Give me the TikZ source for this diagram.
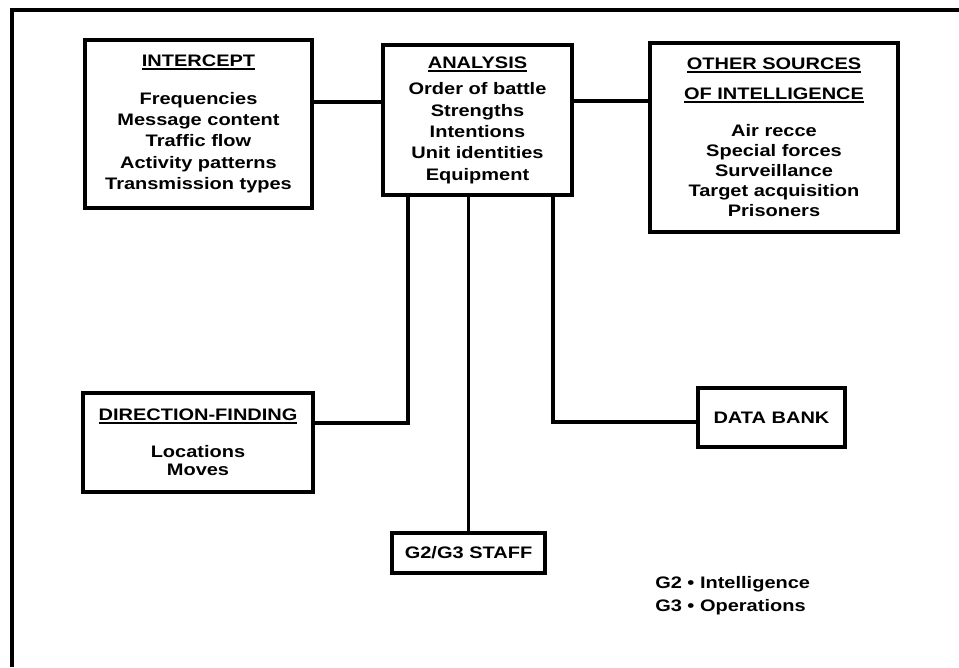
\documentclass[tikz,border=0pt]{standalone}
\usepackage{fontspec}
\setmainfont{Liberation Sans}[FakeStretch=1.2]
\usepackage{tikz}

\newcommand{\boxtitle}[1]{\setbox0\hbox{#1}\leavevmode\rlap{\rule[-2.6pt]{\wd0}{1.4pt}}\box0}

\tikzset{
    unitbox/.style={draw, line width=2.6pt, align=center, inner sep=0pt,
        font=\fontsize{12.5}{16}\selectfont\bfseries},
    link/.style={line width=2.6pt},
}

\begin{document}
\begin{tikzpicture}[x=0.75pt, y=-0.75pt]
    \useasboundingbox (0,0) rectangle (959,667);

    % frame, only top and left edge show
    \draw[line width=3.2pt] (959,10) -- (12,10) -- (12,667);

    \node[unitbox, minimum width=170.25pt, minimum height=126pt] (intercept) at (198.5,124)
        {\boxtitle{INTERCEPT}\\[12pt]
         Frequencies\\
         Message content\\
         Traffic flow\\
         Activity patterns\\
         Transmission types};
    \node[unitbox, minimum width=141.75pt, minimum height=112.5pt] (analysis) at (477.5,120)
        {\boxtitle{ANALYSIS}\\[4pt]
         Order of battle\\
         Strengths\\
         Intentions\\
         Unit identities\\
         Equipment};
    \node[unitbox, minimum width=186pt, minimum height=141.75pt] (other) at (774,137.5)
        {\boxtitle{OTHER SOURCES}\\[6.5pt]
         \boxtitle{OF INTELLIGENCE}\\[12pt]
         Air recce\\[-1pt]
         Special forces\\[-1pt]
         Surveillance\\[-1pt]
         Target acquisition\\[-1pt]
         Prisoners};
    \node[unitbox, minimum width=172.5pt, minimum height=74.25pt] (df) at (198,442.5)
        {\boxtitle{DIRECTION-FINDING}\\[12pt]
         Locations\\[-2.5pt]
         Moves};
    \node[unitbox, minimum width=114.75pt, minimum height=30pt] (staff) at (468.5,553)
        {G2/G3 STAFF};
    \node[unitbox, minimum width=110.25pt, minimum height=44.25pt] (bank) at (771.5,417.5)
        {DATA BANK};

    \node[anchor=north west, align=left, inner sep=0pt,
        font=\fontsize{12.5}{17.5}\selectfont\bfseries] (legend) at (655,576)
        {G2 \textbullet{} Intelligence\\
         G3 \textbullet{} Operations};

    % connectors
    \coordinate (westlink) at (340,102);
    \coordinate (eastlink) at (610,101);
    \coordinate (dfbend) at (408,423);
    \coordinate (bankbend) at (553,422);

    \draw[link] (intercept.east |- westlink) -- (analysis.west |- westlink);
    \draw[link] (analysis.east |- eastlink) -- (other.west |- eastlink);
    \draw[link] (analysis.south -| dfbend) -- (dfbend) -- (df.east |- dfbend);
    \draw[link] (analysis.south -| staff.north) -- (staff.north);
    \draw[link] (analysis.south -| bankbend) -- (bankbend) -- (bank.west |- bankbend);
\end{tikzpicture}
\end{document}
